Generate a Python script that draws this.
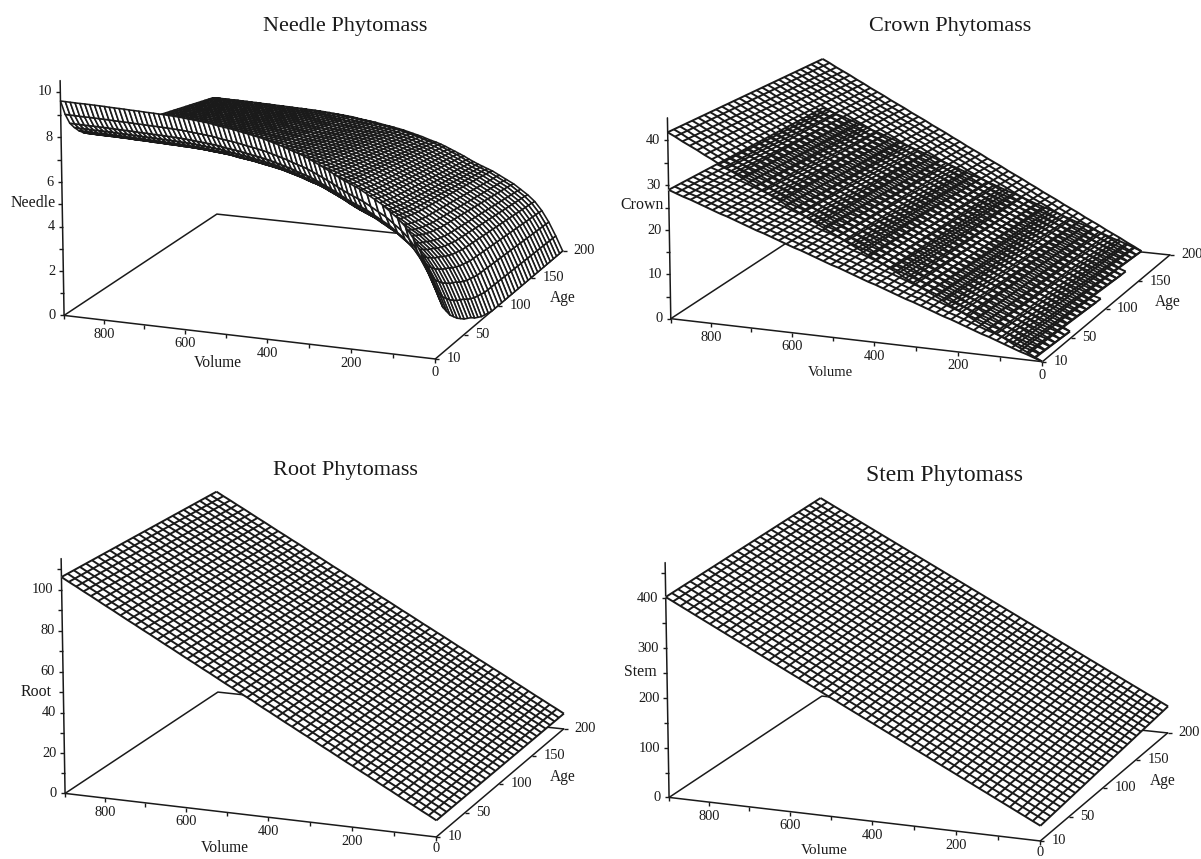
import numpy as np, seaborn as sns, matplotlib
matplotlib.use("Agg")
import matplotlib.pyplot as plt
from matplotlib.markers import TICKDOWN, TICKLEFT, TICKRIGHT
from mpl_toolkits.mplot3d import proj3d

sns.set_theme(style="white")
plt.rcParams['font.family'] = ['Liberation Serif', 'DejaVu Serif']

# Mesh lines and edge profiles, one value per mesh line.
volume_lines = [0,18,36,54,72,90,108,126,144,162,180,198,216,234,252,270,288,306,324,342,360,378,396,414,432,450,468,486,504,522,540,558,576,594,612,630,648,666,684,702,720,738,756,774,792,810,828,846,864,882,900]
plane_age_lines = [10,17,24,31,38,45,52,59,66,73,80,87,94,101,108,115,122,129,136,143,150,157,164,171,178,185,192,200]
needle_volume_lines = [0,18,36,54,72,90,108,126,144,162,180,192,204,216,228,240,252,264,276,288,300,312,324,336,348,360,372,384,396,408,420,432,444,456,468,480,492,504,516,528,540,552,564,576,588,600,612,624,636,648,660,672,684,696,708,720,732,744,756,768,780,792,804,816,828,840,852,864,876,888,900]
needle_age_lines = [10,15,20,25,30,35,40,45,50,55,60,65,70,75,80,85,90,95,100,105,110,115,120,125,130,135,140,145,150,155,160,165,170,175,180,185,190,195,200]

needle_high_by_age = [9.6,8.9,8.4,8.1,7.85,7.65,7.5,7.4,7.3,7.2,7.12,7.05,7.0,6.95,6.9,6.85,6.8,6.75,6.7,6.65,6.6,6.55,6.5,6.45,6.4,6.35,6.3,6.25,6.2,6.15,6.1,6.05,6.0,5.95,5.9,5.85,5.8,5.75,5.65]
needle_low_by_age = [3.1,2.5,2.0,1.7,1.4,1.2,1.0,.85,.7,.6,.5,.35,.25,.15,.1,.05,0,0,0,0,0,0,0,0,0,0,0,0,0,0,0,0,0,0,0,0,0,0,0]
needle_share_by_volume = [0,.12,.23,.32,.39,.44,.48,.52,.55,.58,.61,.625,.64,.655,.672,.69,.71,.727,.744,.76,.777,.792,.805,.815,.827,.84,.85,.86,.87,.88,.888,.895,.902,.908,.915,.922,.927,.932,.937,.943,.95,.953,.957,.96,.963,.967,.97,.972,.974,.976,.977,.979,.98,.981,.983,.984,.985,.987,.988,.989,.99,.992,.993,.994,.995,.996,.996,.997,.998,.999,1]

crown_upper_by_volume = [0,.8,1.7,2.5,3.3,4.2,5.0,5.9,6.7,7.5,8.4,9.2,10.0,10.9,11.7,12.5,13.4,14.2,15.0,15.9,16.7,17.6,18.4,19.2,20.1,20.9,21.7,22.6,23.4,24.2,25.1,25.9,26.8,27.6,28.4,29.3,30.1,30.9,31.8,32.6,33.4,34.3,35.1,35.9,36.8,37.6,38.5,39.3,40.1,41.0,41.8]
crown_lower_by_volume = [0,.6,1.2,1.7,2.3,2.9,3.5,4.1,4.6,5.2,5.8,6.4,7.0,7.5,8.1,8.7,9.3,9.9,10.4,11.0,11.6,12.2,12.8,13.3,13.9,14.5,15.1,15.7,16.2,16.8,17.4,18.0,18.6,19.1,19.7,20.3,20.9,21.5,22.0,22.6,23.2,23.8,24.4,24.9,25.5,26.1,26.7,27.3,27.8,28.4,29.0]
crown_upper_by_age = [0,-.11,-.23,-.34,-.46,-.57,-.69,-.80,-.92,-1.03,-1.15,-1.26,-1.38,-1.49,-1.61,-1.72,-1.84,-1.95,-2.07,-2.18,-2.30,-2.41,-2.53,-2.64,-2.76,-2.87,-2.99,-3.12]
crown_lower_by_age = [0,-.08,-.15,-.23,-.31,-.39,-.46,-.54,-.62,-.69,-.77,-.85,-.92,-1.0,-1.08,-1.16,-1.23,-1.31,-1.39,-1.46,-1.54,-1.62,-1.69,-1.77,-1.85,-1.93,-2.00,-2.09]

root_by_volume = [8.0,10.0,11.9,13.9,15.8,17.8,19.8,21.7,23.7,25.7,27.6,29.6,31.5,33.5,35.5,37.4,39.4,41.4,43.3,45.3,47.2,49.2,51.2,53.1,55.1,57.1,59.0,61.0,62.9,64.9,66.9,68.8,70.8,72.7,74.7,76.7,78.6,80.6,82.6,84.5,86.5,88.4,90.4,92.4,94.3,96.3,98.3,100.2,102.2,104.1,106.1]
root_by_age = [0.0]*28

stem_by_volume = [30,37.4,44.9,52.3,59.8,67.2,74.6,82.1,89.5,97.0,104.4,111.8,119.3,126.7,134.2,141.6,149.0,156.5,163.9,171.4,178.8,186.2,193.7,201.1,208.6,216.0,223.4,230.9,238.3,245.8,253.2,260.6,268.1,275.5,283.0,290.4,297.8,305.3,312.7,320.2,327.6,335.0,342.5,349.9,357.4,364.8,372.2,379.7,387.1,394.6,402.0]
stem_by_age = [0,1,2,3,3.9,4.9,5.9,6.9,7.8,8.8,9.8,10.8,11.8,12.7,13.7,14.7,15.7,16.6,17.6,18.6,19.6,20.6,21.5,22.5,23.5,24.5,25.4,26.6]

titles = ["Needle Phytomass", "Crown Phytomass", "Root Phytomass", "Stem Phytomass"]
title_sizes = [16, 16, 16, 17]
zlabels = ["Needle", "Crown", "Root", "Stem"]
ztops = [10.5, 45, 115, 470]
zticks = [[0,1,2,3,4,5,6,7,8,9,10],[0,5,10,15,20,25,30,35,40],
          [0,10,20,30,40,50,60,70,80,90,100,110],[0,50,100,150,200,250,300,350,400,450]]
zlabeled = [[0,2,4,6,8,10],[0,10,20,30,40],[0,20,40,60,80,100],[0,100,200,300,400]]
volume_ticks = [0,100,200,300,400,500,600,700,800,900]
volume_labeled = [0,200,400,600,800]
age_ticks = [10,50,100,150,200]

W, H = 1201, 859
fig = plt.figure(figsize=(W/100, H/100), dpi=100, facecolor='white')

# camera fitted to the axis corners of the reference
EL, AZ, FOCAL, YA, ZA = 15.198, -68.824, 1.3314, 1.0115, 0.6140
box_z = [ZA, ZA*201/235, ZA, ZA]
SIZE, CX, CY = 581.64, 311.91, 682.52
offs = [(0,0),(607,20),(1,478),(605,482)]
LW = 1.4

VP, AP = np.meshgrid(np.array(volume_lines, float), np.array(plane_age_lines, float))
VN, AN = np.meshgrid(np.array(needle_volume_lines, float), np.array(needle_age_lines, float))
low = np.array(needle_low_by_age); high = np.array(needle_high_by_age)
needle = low[:,None] + (high-low)[:,None]*np.array(needle_share_by_volume)[None,:]
cu = np.array(crown_upper_by_age)[:,None] + np.array(crown_upper_by_volume)[None,:]
cl = np.array(crown_lower_by_age)[:,None] + np.array(crown_lower_by_volume)[None,:]
cu = np.where(cu < 0, np.nan, cu); cl = np.where(cl < 0, np.nan, cl)
root = np.array(root_by_age)[:,None] + np.array(root_by_volume)[None,:]
stem = np.array(stem_by_age)[:,None] + np.array(stem_by_volume)[None,:]

def label(ax, x, y, z, s, dx, dy, ha):
    px, py, _ = proj3d.proj_transform(x, y, z, ax.get_proj())
    qx, qy = ax.transData.transform((px, py))
    fig.text((qx+dx)/W, (qy+dy)/H, s, ha=ha, va='center', fontsize=10.4, color='k')

fill = dict(rstride=1, cstride=1, color='white', edgecolor='none', linewidth=0, shade=False, antialiased=False)
wire = dict(rstride=1, cstride=1, color='k', linewidth=LW)
norm0 = np.linalg.norm((1,YA,ZA))
for i in range(4):
    cx = CX+offs[i][0]; cy = CY-offs[i][1]
    ax = fig.add_axes([(cx-SIZE/2)/W,(cy-SIZE/2)/H,SIZE/W,SIZE/H], projection='3d', computed_zorder=False)
    ax.patch.set_alpha(0)
    ax.set_proj_type('persp', focal_length=FOCAL); ax.view_init(EL,AZ)
    ax.set_box_aspect((1,YA,box_z[i]), zoom=np.linalg.norm((1,YA,box_z[i]))/norm0)
    ax.set_xlim(900, 0, view_margin=0); ax.set_ylim(10, 200, view_margin=0); ax.set_zlim(0, ztops[i], view_margin=0)
    ax.apply_aspect()
    ax.grid(False)
    for a in (ax.xaxis, ax.yaxis, ax.zaxis):
        a.pane.set_visible(False)
        a.line.set_color('k'); a.line.set_linewidth(1.1)
    ax.set_xticks([]); ax.set_yticks([]); ax.set_zticks([])
    ax.zaxis.set_ticks_position('lower')
    ax.plot([900,900,0],[10,200,200],[0,0,0],color='k',lw=1.1,zorder=1)
    tk = dict(color='k', ls='none', ms=3, mew=1.0, zorder=9)
    ax.plot(volume_ticks,[10]*len(volume_ticks),[0]*len(volume_ticks),marker=TICKDOWN,**tk)
    ax.plot([0]*len(age_ticks),age_ticks,[0]*len(age_ticks),marker=TICKRIGHT,**tk)
    ax.plot([900]*len(zticks[i]),[10]*len(zticks[i]),zticks[i],marker=TICKLEFT,**tk)
    for t in volume_labeled: label(ax,t,10,0,str(t),0,-12 if (t==0 and i>=2) else -14,'center')
    for t in age_ticks: label(ax,0,t,0,str(t),11,0,'left')
    for t in zlabeled[i]: label(ax,900,10,t,str(t),-8,0,'right')
    if i == 0:
        ax.plot_surface(VN,AN,needle,rstride=1,cstride=1,color='white',edgecolor='k',linewidth=1.15,shade=False,zorder=2)
    elif i == 1:
        ax.plot_surface(VP,AP,cl,zorder=2,**fill)
        ax.plot_wireframe(VP,AP,cl,zorder=3,**wire)
        ax.plot_wireframe(VP,AP,cu,zorder=4,**wire)
    else:
        z = root if i == 2 else stem
        ax.plot_surface(VP,AP,z,zorder=2,**fill)
        ax.plot_wireframe(VP,AP,z,zorder=3,**wire)

title_xy = [(345,27),(950,27),(345,470),(944,476)]
vol_xy = [(218,363),(830,372),(225,848),(824,851)]
vol_sizes = [11.2,10.5,11.2,10.8]
age_xy = [(563,298),(1168,302),(563,777),(1163,781)]
zl_xy = [(33,203),(642,205),(36,692),(640,672)]
for i in range(4):
    fig.text(title_xy[i][0]/W,1-title_xy[i][1]/H,titles[i],ha='center',va='center',fontsize=title_sizes[i],color='k')
    fig.text(vol_xy[i][0]/W,1-vol_xy[i][1]/H,'Volume',ha='center',va='center',fontsize=vol_sizes[i],color='k')
    fig.text(age_xy[i][0]/W,1-age_xy[i][1]/H,'Age',ha='center',va='center',fontsize=11.2,color='k')
    fig.text(zl_xy[i][0]/W,1-zl_xy[i][1]/H,zlabels[i],ha='center',va='center',fontsize=11.4,color='k')
fig.savefig('out.png', dpi=100)
